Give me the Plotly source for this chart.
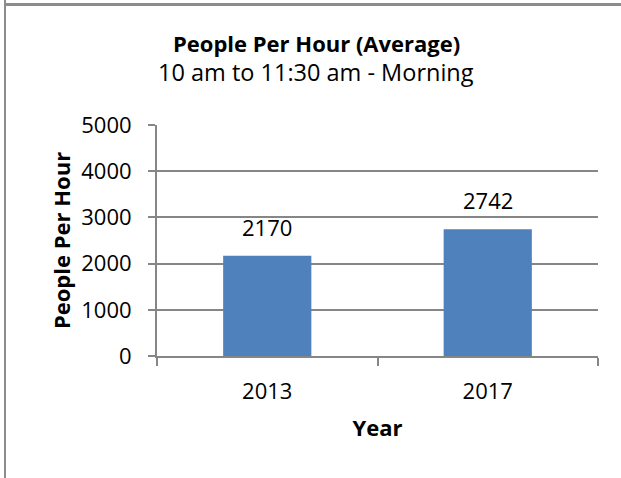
import plotly.graph_objects as go

years = ["2013", "2017"]
people_per_hour = [2170, 2742]
y_ticks = [0, 1000, 2000, 3000, 4000, 5000]

FONT = "Open Sans"
GRID = "#868686"
BORDER = "#8C8C8C"
W, H = 621, 478
L, R, T, B = 157, 23, 125, 122
pw, ph = W - L - R, H - T - B
FS = 22

def px_x(px):
    return (px - L) / pw

def px_y(py):
    return (H - B - py) / ph

fig = go.Figure(go.Bar(
    x=years, y=people_per_hour,
    marker=dict(color="#4F81BD", line=dict(width=0)),
    width=0.4,
    hoverinfo="x+y",
))

value_labels = [
    dict(text=str(v), x=i, y=v, xref="x", yref="y", xanchor="center", yanchor="bottom",
         yshift=12, showarrow=False, font=dict(family=FONT, size=FS, color="#000000"))
    for i, v in enumerate(people_per_hour)
]

fig.update_layout(
    width=W, height=H,
    margin=dict(l=L, r=R, t=T, b=B, autoexpand=False),
    paper_bgcolor="white", plot_bgcolor="white",
    font=dict(family=FONT, size=FS, color="#000000"),
    showlegend=False,
    xaxis=dict(
        type="category",
        showline=True, linecolor=GRID, linewidth=2,
        ticks="outside", tickson="boundaries", ticklen=8, tickcolor=GRID, tickwidth=2,
        showgrid=False,
        tickfont=dict(family=FONT, size=FS),
        ticklabelstandoff=15,
        title=dict(text="<b>Year</b>", font=dict(family=FONT, size=FS), standoff=16),
    ),
    yaxis=dict(
        range=[0, 5000], tickvals=y_ticks,
        showline=True, linecolor=GRID, linewidth=2,
        ticks="outside", ticklen=7, tickcolor=GRID, tickwidth=2,
        showgrid=True, gridcolor=GRID, gridwidth=2,
        zeroline=False,
        tickfont=dict(family=FONT, size=FS),
        ticklabelstandoff=12,
        title=dict(text="<b>People Per Hour</b>", font=dict(family=FONT, size=FS), standoff=5),
    ),
    annotations=value_labels + [
        dict(text="<b>People Per Hour (Average)</b>", xref="paper", yref="paper",
             x=px_x(316), y=px_y(43), xanchor="center", yanchor="middle",
             showarrow=False, font=dict(family=FONT, size=FS)),
        dict(text="10 am to 11:30 am - Morning", xref="paper", yref="paper",
             x=px_x(316), y=px_y(72), xanchor="center", yanchor="middle",
             showarrow=False, font=dict(family=FONT, size=FS + 1.5)),
    ],
    shapes=[
        dict(type="rect", xref="paper", yref="paper",
             x0=px_x(4), x1=px_x(W + 5), y0=px_y(3), y1=px_y(6),
             line=dict(width=0), fillcolor=BORDER, layer="above"),
        dict(type="line", xref="paper", yref="paper",
             x0=px_x(5), x1=px_x(5), y0=px_y(-5), y1=px_y(H + 5),
             line=dict(color=BORDER, width=2), layer="above"),
    ],
)

fig.write_html(
    "out.html", config={"displayModeBar": False},
    post_script=(
        "document.documentElement.style.margin='0';"
        "document.documentElement.style.overflow='hidden';"
        "document.body.style.margin='0';document.body.style.padding='0';"
        "document.body.style.overflow='hidden';window.scrollTo(0,0);"
    ),
)
